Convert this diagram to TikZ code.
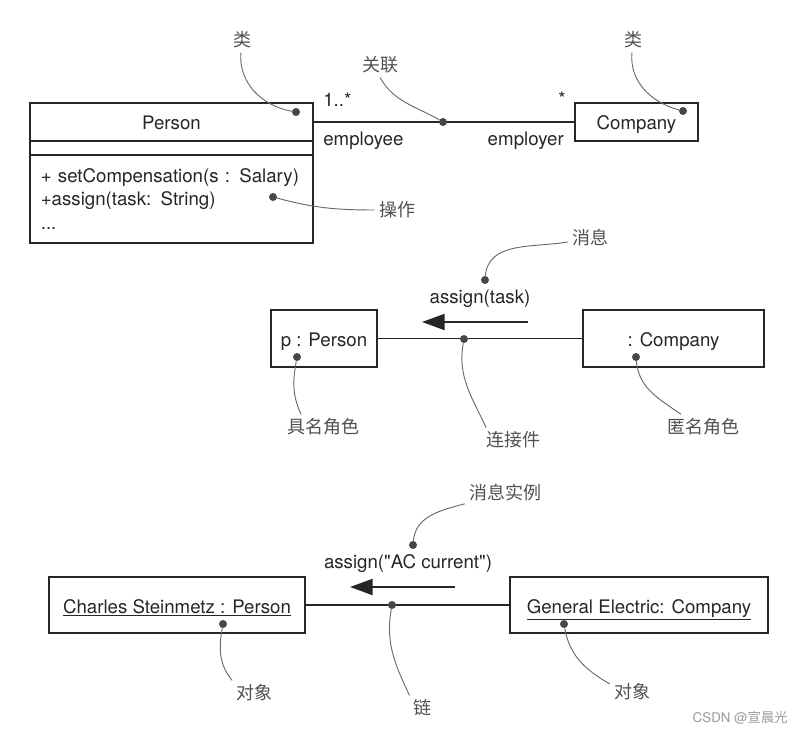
\documentclass[tikz,border=0pt]{standalone}
\usepackage{fontspec}
\setmainfont{TeX Gyre Heros}
\newfontfamily\cjk{Noto Sans CJK SC}
\usetikzlibrary{arrows.meta,positioning}
\definecolor{Ink}{HTML}{262626}
\definecolor{Note}{HTML}{505050}
\definecolor{Lead}{HTML}{6A6A6A}
\definecolor{Mark}{HTML}{9A9A9A}
\tikzset{
  box/.style={draw=Ink,line width=1pt,minimum height=42.75pt,inner sep=0pt,outer sep=0pt,font=\fontsize{14}{17.6}\selectfont,text=Ink},
  one/.style={text height=13pt,text depth=1pt},
  txt/.style={font=\fontsize{14}{17}\selectfont,text=Ink,inner sep=0pt},
  note/.style={font=\cjk\fontsize{13.5}{16}\selectfont,text=Note,inner sep=3pt},
  dot/.style={circle,fill=Ink!85,inner sep=0pt,minimum size=6pt},
  lead/.style={draw=Lead,line width=.7pt},
  link/.style={draw=Ink,line width=1pt},
  msg/.style={-{Triangle[length=17pt,width=12pt]},draw=Ink,line width=1.6pt},
}
\begin{document}
\begin{tikzpicture}[x=.75pt,y=-.75pt]
  \useasboundingbox (0,0) rectangle (802,734);
  \node[box,one,minimum width=212.25pt,minimum height=28.5pt] (pname) at (171.5,122) {Person};
  \node[box,minimum width=212.25pt,minimum height=10.5pt,below=0pt of pname] (pattr) {};
  \node[box,minimum width=212.25pt,minimum height=66pt,below=0pt of pattr,text width=196pt,inner xsep=8pt,align=left] (pops) {+ setCompensation(s : Salary)\\+assign(task: String)\\...};
  \node[box,one,minimum width=92.25pt,minimum height=28.5pt] (comp) at (636.5,122) {Company};
  \draw[link] (pname.east) -- (comp.west);
  \node[txt,anchor=west] (mult1) at (323,100) {1..*};
  \node[txt,anchor=west] (role1) at (323,141) {employee};
  \node[txt,anchor=east] (mult2) at (566,99) {*};
  \node[txt,anchor=east] (role2) at (564,141) {employer};
  \node[dot] (dasc) at (443,122) {};
  \node[dot] (dcls1) at (296,112) {};
  \node[dot] (dcls2) at (683,111) {};
  \node[dot] (dop) at (273,197) {};
  \node[note] (ncls1) at (242,40) {类};
  \node[note] (ncls2) at (633,40) {类};
  \node[note] (nasc) at (380,65) {关联};
  \node[note] (nop) at (397,210) {操作};
  \draw[lead] (ncls1) to[out=-95,in=170] (dcls1);
  \draw[lead] (ncls2) to[out=-95,in=165] (dcls2);
  \draw[lead] (nasc.south) to[out=-60,in=150] (dasc);
  \draw[lead] (dop) to[out=-15,in=180] (nop);

  \node[box,one,minimum width=79.5pt] (pp) at (324,338.5) {p : Person};
  \node[box,one,minimum width=135.75pt] (ac) at (673.5,338.5) {: Company};
  \draw[link] (pp) -- (ac);
  \node[dot] (dcon) at (464,339) {};
  \coordinate (m1s) at (528,322);
  \coordinate (m1e) at (422,322);
  \draw[msg] (m1s) -- (m1e);
  \node[txt] (m1) at (480,299) {assign(task)};
  \node[dot] (dmsg) at (485,280) {};
  \node[dot] (dpp) at (297,357) {};
  \node[dot] (dac) at (636,357) {};
  \node[note] (nmsg) at (590,238) {消息};
  \node[note] (npp) at (323,427) {具名角色};
  \node[note] (ncon) at (513,440) {连接件};
  \node[note] (nac) at (703,427) {匿名角色};
  \draw[lead] (dmsg) to[out=85,in=190] (nmsg);
  \draw[lead] (dpp) to[out=-100,in=115] (npp.150);
  \draw[lead] (dcon) to[out=-100,in=115] (ncon.155);
  \draw[lead] (dac) to[out=-85,in=145] (nac.150);

  \node[box,one,minimum width=192pt,minimum height=42pt] (cs) at (177,605) {\underline{Charles Steinmetz : Person}};
  \node[box,one,minimum width=193.5pt,minimum height=42pt] (ge) at (639,605) {\underline{General Electric: Company}};
  \draw[link] (cs) -- (ge);
  \node[dot] (dlnk) at (392,605) {};
  \coordinate (m2s) at (455,587);
  \coordinate (m2e) at (350,587);
  \draw[msg] (m2s) -- (m2e);
  \node[txt] (m2) at (408,564) {assign(\textquotedbl AC current\textquotedbl)};
  \node[dot] (dmsg2) at (413,545) {};
  \node[dot] (dcs) at (223,624) {};
  \node[dot] (dge) at (564,624) {};
  \node[note] (nmsg2) at (505,493) {消息实例};
  \node[note] (ncs) at (254,693) {对象};
  \node[note] (nlnk) at (422,708) {链};
  \node[note] (nge) at (632,692) {对象};
  \draw[lead] (dmsg2) to[out=85,in=195] (nmsg2);
  \draw[lead] (dcs) to[out=-100,in=130] (ncs.150);
  \draw[lead] (dlnk) to[out=-100,in=115] (nlnk.135);
  \draw[lead] (dge) to[out=-80,in=150] (nge.160);
  \node[font=\fontsize{10}{12}\selectfont,text=Mark,inner sep=0pt,anchor=east] (wm) at (788,718) {CSDN @{\cjk 宣晨光}};
\end{tikzpicture}
\end{document}
